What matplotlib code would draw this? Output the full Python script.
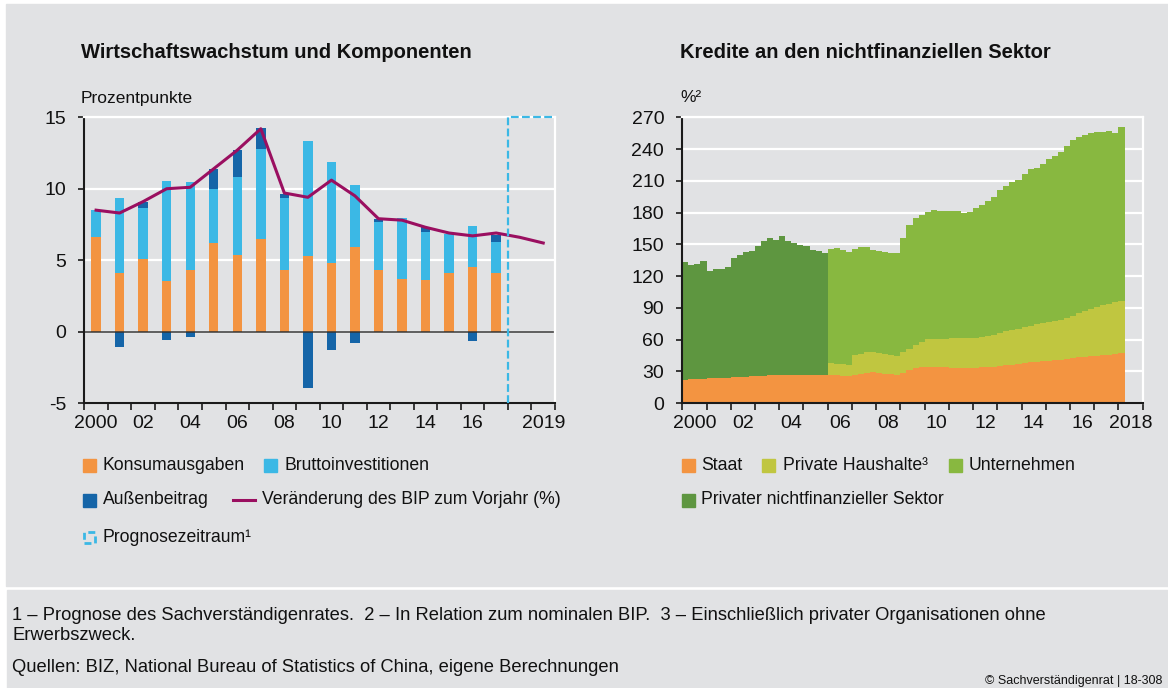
import numpy as np
import matplotlib.pyplot as plt
from matplotlib.patches import Rectangle
from matplotlib.lines import Line2D

plt.rcParams['font.family'] = ['Liberation Sans', 'DejaVu Sans']
plt.rcParams['axes.unicode_minus'] = False

W, H = 1168, 688
BG = '#e1e2e4'

# linke Grafik: Wachstumsbeitraege in Prozentpunkten
jahre = list(range(2000, 2020))
konsum = [6.65, 4.09, 5.09, 3.56, 4.30, 6.21, 5.37, 6.47, 4.28, 5.26, 4.81, 5.91,
          4.30, 3.65, 3.58, 4.12, 4.51, 4.12]
invest = [1.88, 5.28, 3.58, 7.00, 6.19, 3.79, 5.47, 6.30, 5.09, 8.09, 7.05, 4.35,
          3.40, 4.28, 3.40, 2.69, 2.91, 2.18]
aussen = [0.0, -1.07, 0.40, -0.56, -0.37, 1.40, 1.88, 1.46, 0.28, -3.95, -1.26, -0.77,
          0.21, -0.05, 0.32, -0.05, -0.67, 0.49]
bip = [8.5, 8.3, 9.1, 10.0, 10.1, 11.4, 12.7, 14.2, 9.7, 9.4, 10.6, 9.5,
       7.9, 7.8, 7.3, 6.9, 6.7, 6.9, 6.6, 6.2]
x_labels = ['2000', '02', '04', '06', '08', '10', '12', '14', '16', '2019']
x_label_years = [2000, 2002, 2004, 2006, 2008, 2010, 2012, 2014, 2016, 2019]

# rechte Grafik: Kredite in % des BIP, quartalsweise ab 2000 Q1
staat = [22.0, 22.3, 22.6, 23.0, 23.2, 23.4, 23.6, 23.9, 24.2, 24.5, 24.8, 25.1,
         25.4, 25.7, 26.0, 26.3, 26.5, 26.6, 26.6, 26.5, 26.4, 26.3, 26.3, 26.3,
         26.1, 26.1, 25.5, 25.2, 26.1, 27.7, 28.3, 28.9, 28.3, 27.4, 27.1, 26.7,
         28.5, 30.8, 32.7, 34.0, 34.0, 34.0, 33.7, 33.7, 33.4, 33.0, 33.0, 33.0,
         33.4, 33.7, 34.0, 34.3, 34.9, 35.6, 36.2, 36.8, 37.4, 38.4, 39.0, 39.6,
         40.0, 40.3, 40.9, 41.5, 42.2, 43.1, 43.7, 44.1, 44.7, 45.0, 45.6, 46.3,
         47.2]
# 2000 Q1 - 2005 Q4
privat_sektor = [111.1, 107.7, 108.6, 111.4, 101.7, 103.4, 103.2, 104.2,
                 113.3, 115.5, 117.7, 118.7, 122.5, 127.5, 129.8, 127.9,
                 131.1, 126.6, 124.4, 123.0, 121.5, 118.4, 117.5, 115.9]
# 2006 Q1 - 2018 Q1
haushalte = [12.0, 10.7, 11.0, 11.0, 19.2, 18.9, 19.8, 19.2, 18.9, 18.9, 18.5, 18.0,
             19.3, 20.2, 22.4, 23.9, 26.1, 26.7, 27.0, 27.0, 27.6, 28.0, 28.4, 28.0,
             28.3, 28.9, 29.6, 29.9, 31.2, 32.4, 33.0, 33.4, 34.3, 34.6, 35.3, 35.9,
             36.5, 37.4, 37.8, 38.4, 39.9, 41.9, 43.5, 44.9, 45.9, 47.2, 48.2, 48.7,
             49.4]
unternehmen = [107.3, 109.5, 108.2, 106.7, 100.1, 100.7, 99.2, 96.3, 96.9, 96.6, 96.3, 96.6,
               108.3, 117.0, 119.5, 119.6, 120.5, 121.8, 121.2, 120.5, 120.6, 120.2, 118.6, 119.6,
               122.4, 124.6, 127.7, 130.3, 135.3, 137.2, 140.0, 140.3, 144.8, 147.9, 148.2, 150.1,
               153.8, 155.8, 158.6, 163.0, 166.5, 166.7, 166.4, 165.9, 165.2, 163.9, 163.0, 160.5,
               164.3]
r_labels = ['2000', '02', '04', '06', '08', '10', '12', '14', '16', '2018']
r_label_years = [2000, 2002, 2004, 2006, 2008, 2010, 2012, 2014, 2016, 2018]

c_orange = '#f39441'
c_hblau = '#3bb8e5'
c_dblau = '#1565a8'
c_lila = '#9a0f60'
c_gelb = '#c0c640'
c_gruen = '#88b840'
c_dgruen = '#5e9640'


def fx(x):
    return x / W


def fy(y):
    return 1 - y / H


fig = plt.figure(figsize=(W / 100, H / 100), dpi=100, facecolor='white')
fig.patches.append(Rectangle((fx(6), fy(586)), fx(W - 6), (586 - 4) / H,
                             transform=fig.transFigure, color=BG, zorder=-5))
fig.patches.append(Rectangle((fx(7), 0), fx(W - 7), (H - 590) / H,
                             transform=fig.transFigure, color=BG, zorder=-5))


def style_axes(ax):
    ax.set_facecolor(BG)
    ax.set_axisbelow(True)
    ax.grid(axis='y', color='white', lw=1.6)
    ax.grid(axis='x', visible=False)
    for s in ['top', 'right']:
        ax.spines[s].set_color('white')
        ax.spines[s].set_linewidth(1.6)
    for s in ['left', 'bottom']:
        ax.spines[s].set_color('#1a1a1a')
        ax.spines[s].set_linewidth(1.5)
    ax.tick_params(axis='both', which='both', direction='out', color='#1a1a1a',
                   labelsize=14, labelcolor='#111111')
    ax.tick_params(axis='y', length=4, width=1.2, pad=9)
    ax.tick_params(axis='x', which='major', length=0, pad=9)
    ax.tick_params(axis='x', which='minor', length=5, width=1.2)


# ---- linke Grafik
ax1 = fig.add_axes([fx(84.3), fy(403), fx(555 - 84.3), (403 - 117.3) / H])
style_axes(ax1)
pos = np.arange(len(konsum))
konsum_a = np.array(konsum)
invest_a = np.array(invest)
aussen_a = np.array(aussen)
bw = 0.4
ax1.bar(pos, konsum_a, bw, color=c_orange, zorder=2)
ax1.bar(pos, invest_a, bw, bottom=konsum_a, color=c_hblau, zorder=2)
ax1.bar(pos, aussen_a, bw, bottom=np.where(aussen_a > 0, konsum_a + invest_a, 0),
        color=c_dblau, zorder=2)
ax1.axhline(0, color='#333333', lw=1.1, zorder=2.5)
ax1.plot(np.arange(len(bip)), bip, color=c_lila, lw=2.2, zorder=4, solid_joinstyle='round')
ax1.plot([17.5, 17.5, 19.5], [-5, 15, 15], color=c_hblau, lw=1.6, dashes=(3.5, 1.5),
         clip_on=False, zorder=5)
ax1.set_xlim(-0.5, 19.5)
ax1.set_ylim(-5, 15)
ax1.set_yticks([-5, 0, 5, 10, 15])
ax1.set_xticks([jahre.index(j) for j in x_label_years])
ax1.set_xticklabels(x_labels)
ax1.set_xticks(np.arange(-0.5, 20, 1), minor=True)

# ---- rechte Grafik
ax2 = fig.add_axes([fx(682.3), fy(403), fx(460.4), (403 - 117.3) / H])
style_axes(ax2)
staat_a = np.array(staat)
edges = 2000 + np.arange(len(staat) + 1) / 4
n0 = len(privat_sektor)
ax2.stairs(staat_a, edges, baseline=0, fill=True, color=c_orange, lw=0.4, zorder=2)
ax2.stairs(staat_a[:n0] + np.array(privat_sektor), edges[:n0 + 1], baseline=staat_a[:n0],
           fill=True, color=c_dgruen, lw=0.4, zorder=2)
hh_top = staat_a[n0:] + np.array(haushalte)
ax2.stairs(hh_top, edges[n0:], baseline=staat_a[n0:], fill=True, color=c_gelb, lw=0.4, zorder=2)
ax2.stairs(hh_top + np.array(unternehmen), edges[n0:], baseline=hh_top, fill=True,
           color=c_gruen, lw=0.4, zorder=2)
ax2.set_xlim(2000, 2019)
ax2.set_ylim(0, 270)
ax2.set_yticks(range(0, 271, 30))
ax2.set_xticks([j + 0.5 for j in r_label_years])
ax2.set_xticklabels(r_labels)
ax2.set_xticks(np.arange(2000, 2020, 1), minor=True)

# ---- Titel
fig.text(fx(81), fy(53), 'Wirtschaftswachstum und Komponenten', fontsize=14.5,
         fontweight='bold', va='center', color='#111111')
fig.text(fx(680), fy(53), 'Kredite an den nichtfinanziellen Sektor', fontsize=14.5,
         fontweight='bold', va='center', color='#111111')
fig.text(fx(81), fy(98), 'Prozentpunkte', fontsize=12.5, va='center', color='#111111')
fig.text(fx(680), fy(98), '%²', fontsize=12.5, va='center', color='#111111')


# ---- Legenden
def leg_box(x, y, color):
    fig.patches.append(Rectangle((fx(x), fy(y + 6.5)), 13 / W, 13 / H,
                                 transform=fig.transFigure, color=color, zorder=3))


def leg_text(x, y, s):
    fig.text(fx(x), fy(y), s, fontsize=12.7, va='center', color='#111111')


leg_box(83, 465, c_orange)
leg_text(103, 465, 'Konsumausgaben')
leg_box(264, 465, c_hblau)
leg_text(285, 465, 'Bruttoinvestitionen')
leg_box(83, 500, c_dblau)
leg_text(103, 500, 'Außenbeitrag')
fig.lines.append(Line2D([fx(233), fx(255)], [fy(500), fy(500)], transform=fig.transFigure,
                        color=c_lila, lw=2.2))
leg_text(262, 500, 'Veränderung des BIP zum Vorjahr (%)')
fig.patches.append(Rectangle((fx(84), fy(543)), 11 / W, 11 / H, transform=fig.transFigure,
                             fill=False, edgecolor=c_hblau, lw=2, ls=(0, (2.5, 1.5)), zorder=3))
leg_text(103, 537, 'Prognosezeitraum¹')

leg_box(682, 465, c_orange)
leg_text(701, 465, 'Staat')
leg_box(762, 465, c_gelb)
leg_text(783, 465, 'Private Haushalte³')
leg_box(949, 465, c_gruen)
leg_text(969, 465, 'Unternehmen')
leg_box(682, 500, c_dgruen)
leg_text(701, 500, 'Privater nichtfinanzieller Sektor')

# ---- Fussnoten
fig.text(fx(12), fy(615), '1 – Prognose des Sachverständigenrates.  2 – In Relation zum '
         'nominalen BIP.  3 – Einschließlich privater Organisationen ohne',
         fontsize=13.2, va='center', color='#111111')
fig.text(fx(12), fy(635), 'Erwerbszweck.', fontsize=13.2, va='center', color='#111111')
fig.text(fx(12), fy(668), 'Quellen: BIZ, National Bureau of Statistics of China, eigene Berechnungen',
         fontsize=13.2, va='center', color='#111111')
fig.text(fx(985), fy(681), '© Sachverständigenrat | 18-308', fontsize=9, va='center',
         ha='left', color='#111111')

fig.savefig('out.png', dpi=100, facecolor=fig.get_facecolor())
